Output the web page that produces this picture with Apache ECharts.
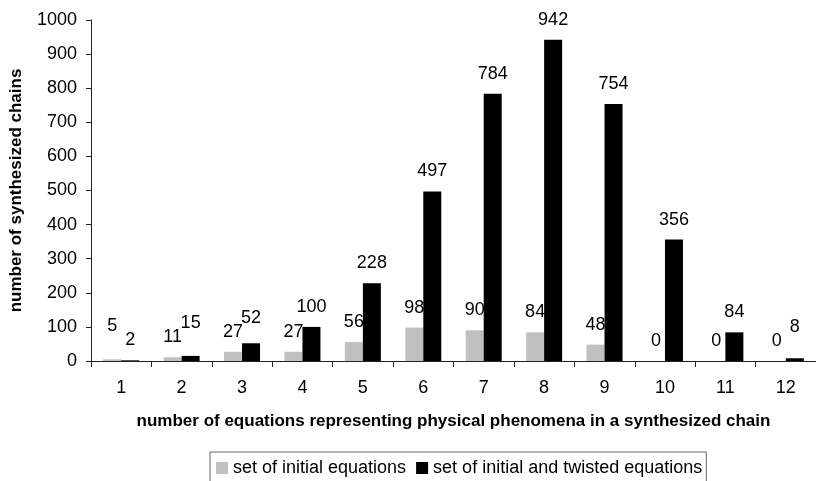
<!DOCTYPE html>
<html>
<head>
<meta charset="utf-8">
<script src="https://cdn.jsdelivr.net/npm/echarts@6/dist/echarts.min.js"></script>
<style>
  html, body { margin: 0; padding: 0; background: #fff; }
  #main { width: 816px; height: 481px; }
</style>
</head>
<body>
<div id="main"></div>
<script>
// data
var categories = ['1', '2', '3', '4', '5', '6', '7', '8', '9', '10', '11', '12'];
var initialEq = [5, 11, 27, 27, 56, 98, 90, 84, 48, 0, 0, 0];
var twistedEq = [2, 15, 52, 100, 228, 497, 784, 942, 754, 356, 84, 8];
var seriesNames = ['set of initial equations', 'set of initial and twisted equations'];

var font = 'Liberation Sans, Arial, sans-serif';

var chart = echarts.init(document.getElementById('main'), null, { renderer: 'canvas' });

var labelStyle = {
    show: true,
    position: 'top',
    distance: 11,
    color: '#000',
    fontFamily: font,
    fontSize: 18
};

// when the two bars of a pair are almost the same height, lift the taller one's label
function liftLabel(p) {
    var i = p.dataIndex;
    var own = p.seriesIndex === 0 ? initialEq[i] : twistedEq[i];
    var other = p.seriesIndex === 0 ? twistedEq[i] : initialEq[i];
    if (own <= other) return {};
    var gap = chart.convertToPixel({ yAxisIndex: 0 }, other) - chart.convertToPixel({ yAxisIndex: 0 }, own);
    if (gap >= 14) return {};
    return { dy: -(14 - gap) };
}

var option = {
    animation: false,
    backgroundColor: '#fff',
    grid: { left: 91, right: 0, top: 20, bottom: 120, outerBoundsMode: 'none', containLabel: false },
    legend: {
        data: seriesNames,
        left: 210,
        top: 452,
        orient: 'horizontal',
        itemWidth: 12,
        itemHeight: 12,
        itemGap: 10,
        padding: [7, 4, 20, 6],
        borderColor: '#666',
        borderWidth: 1,
        icon: 'rect',
        textStyle: { fontFamily: font, fontSize: 18, color: '#000' }
    },
    xAxis: {
        type: 'category',
        data: categories,
        name: 'number of equations representing physical phenomena in a synthesized chain',
        nameLocation: 'middle',
        nameGap: 52,
        nameTextStyle: { fontFamily: font, fontSize: 17, fontWeight: 'bold', color: '#000' },
        axisLine: { lineStyle: { color: '#222', width: 1 } },
        axisTick: { show: true, length: 6, lineStyle: { color: '#222' } },
        axisLabel: { margin: 18, fontFamily: font, fontSize: 18, color: '#000' },
        splitLine: { show: false }
    },
    yAxis: {
        type: 'value',
        min: 0,
        max: 1000,
        interval: 100,
        name: 'number of synthesized chains',
        nameLocation: 'middle',
        nameGap: 66,
        nameTextStyle: { fontFamily: font, fontSize: 17, fontWeight: 'bold', color: '#000' },
        axisLine: { show: true, lineStyle: { color: '#222', width: 1 } },
        axisTick: { show: true, length: 5, lineStyle: { color: '#222' } },
        axisLabel: {
            margin: 14, fontFamily: font, fontSize: 18, color: '#000',
            formatter: function (v) { return String(v); }
        },
        splitLine: { show: false }
    },
    labelLayout: liftLabel,
    series: [
        {
            name: seriesNames[0],
            type: 'bar',
            data: initialEq,
            barWidth: 18,
            barGap: '0%',
            itemStyle: { color: '#c0c0c0' },
            label: labelStyle
        },
        {
            name: seriesNames[1],
            type: 'bar',
            data: twistedEq,
            barWidth: 18,
            barGap: '0%',
            itemStyle: { color: '#000000' },
            label: labelStyle
        }
    ]
};

chart.setOption(option);
</script>
</body>
</html>
